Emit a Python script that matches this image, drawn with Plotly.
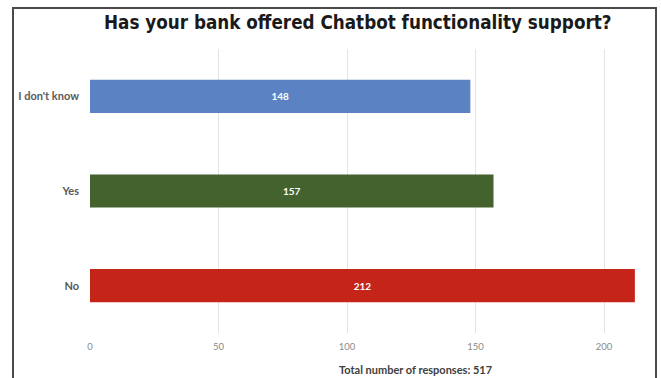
import plotly.graph_objects as go

# Survey answers and response counts
categories = ["No", "Yes", "I don't know"]
responses = [212, 157, 148]
bar_colors = ["#C52518", "#43622E", "#5B83C4"]
x_ticks = [0, 50, 100, 150, 200]
title_text = "Has your bank offered Chatbot functionality support?"
footer_text = "Total number of responses: 517"

fig = go.Figure(
    go.Bar(
        x=responses,
        y=categories,
        orientation="h",
        marker=dict(color=bar_colors, line=dict(width=0)),
        width=0.35,
        text=[str(v) for v in responses],
        textposition="inside",
        insidetextanchor="middle",
        textfont=dict(family="Lato", size=10, color="white", weight="bold"),
        hoverinfo="skip",
    )
)

fig.update_layout(
    width=661,
    height=378,
    margin=dict(l=90, r=21, t=49, b=45),
    paper_bgcolor="white",
    plot_bgcolor="white",
    showlegend=False,
    xaxis=dict(
        range=[0, 214],
        tickvals=x_ticks,
        showgrid=True,
        gridcolor="#E3E3E3",
        gridwidth=1,
        zeroline=False,
        showline=False,
        ticks="",
        ticklabelstandoff=6,
        tickfont=dict(family="Lato", size=9.5, color="#8A8A8A"),
    ),
    yaxis=dict(
        categoryorder="array",
        categoryarray=categories,
        range=[-0.5, 2.5],
        showgrid=False,
        zeroline=False,
        showline=False,
        ticks="",
        ticklabelstandoff=10,
        tickfont=dict(family="Lato", size=11, color="#595959", weight="bold"),
    ),
    annotations=[
        dict(
            text=title_text,
            xref="paper", yref="paper",
            x=(358 - 90) / 550, y=(333 - 23) / 284,
            xanchor="center", yanchor="middle",
            showarrow=False,
            font=dict(family="DejaVu Sans Condensed", size=18.7, color="#1A1A1A", weight="bold"),
        ),
        dict(
            text=footer_text,
            xref="paper", yref="paper",
            x=(415 - 90) / 550, y=(333 - 369) / 284,
            xanchor="center", yanchor="middle",
            showarrow=False,
            font=dict(family="Lato", size=11, color="#404040", weight="bold"),
        ),
    ],
    shapes=[
        dict(
            type="path",
            xref="paper", yref="paper",
            path="M {l},{b} L {l},{t} L {r},{t} L {r},{b}".format(
                l=(13 - 90) / 550, r=(656 - 90) / 550,
                t=(333 - 8) / 284, b=(333 - 385) / 284,
            ),
            line=dict(color="#4A4A4A", width=2),
        )
    ],
)

fig.write_html("out.html")
